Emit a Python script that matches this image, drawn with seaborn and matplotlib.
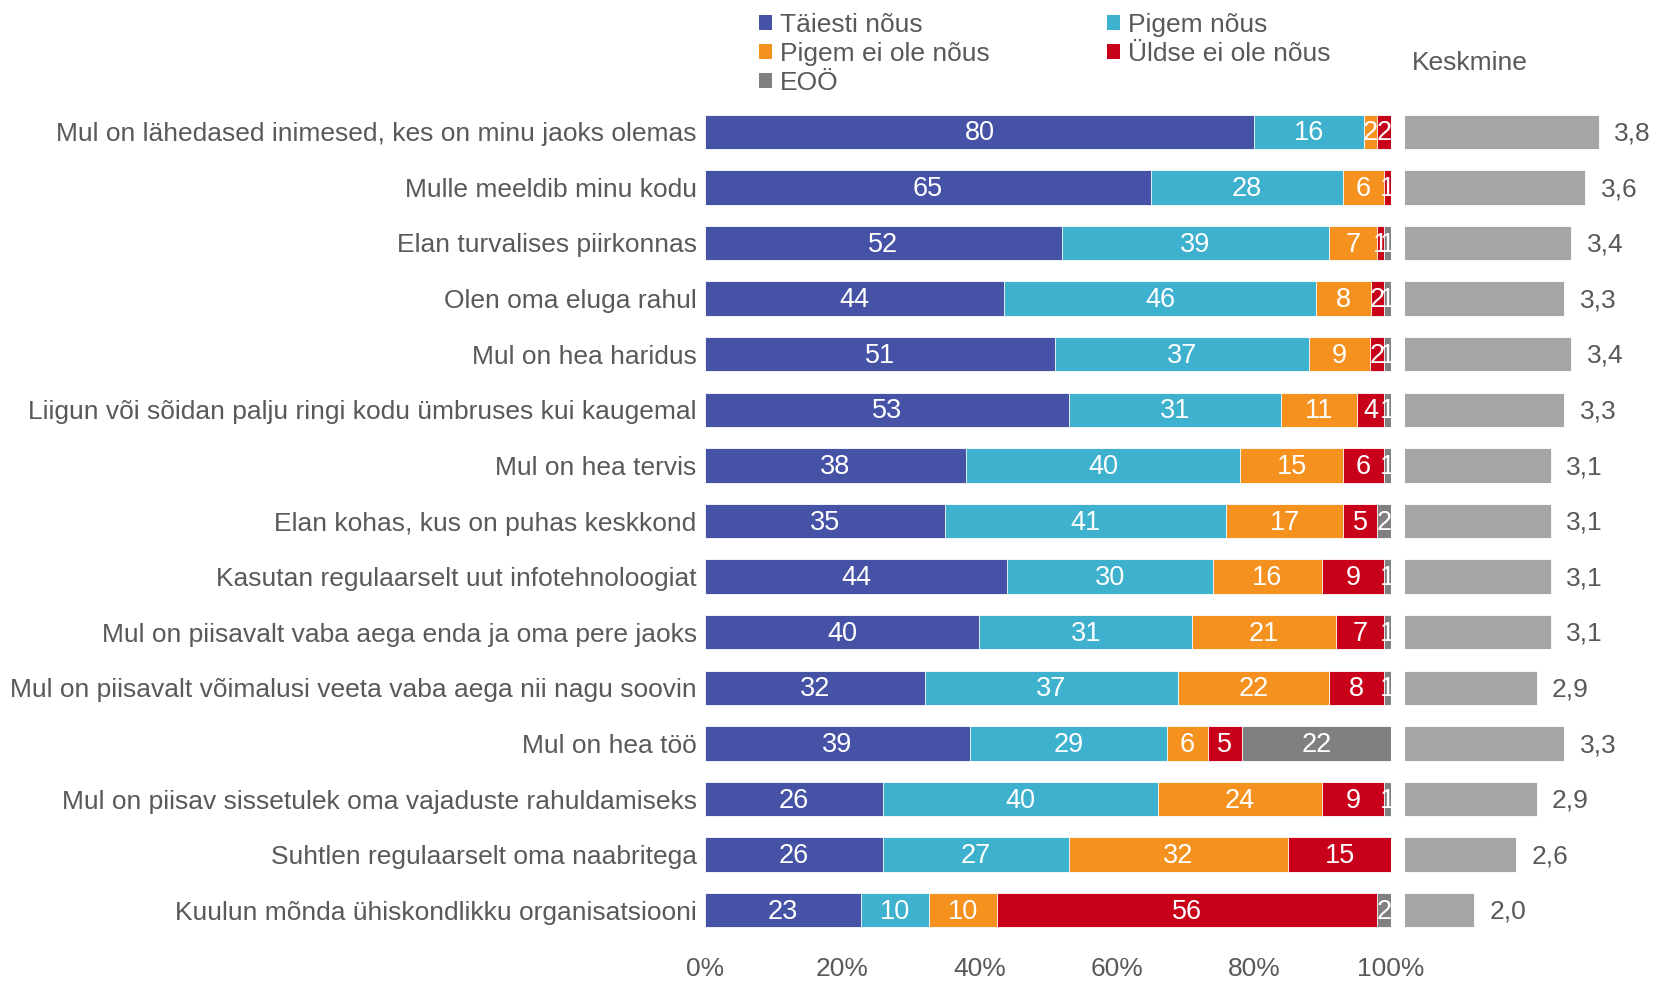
import pandas as pd
import matplotlib.pyplot as plt
import seaborn as sns
from matplotlib.patches import Patch


vaited = [
    "Mul on lähedased inimesed, kes on minu jaoks olemas",
    "Mulle meeldib minu kodu",
    "Elan turvalises piirkonnas",
    "Olen oma eluga rahul",
    "Mul on hea haridus",
    "Liigun või sõidan palju ringi kodu ümbruses kui kaugemal",
    "Mul on hea tervis",
    "Elan kohas, kus on puhas keskkond",
    "Kasutan regulaarselt uut infotehnoloogiat",
    "Mul on piisavalt vaba aega enda ja oma pere jaoks",
    "Mul on piisavalt võimalusi veeta vaba aega nii nagu soovin",
    "Mul on hea töö",
    "Mul on piisav sissetulek oma vajaduste rahuldamiseks",
    "Suhtlen regulaarselt oma naabritega",
    "Kuulun mõnda ühiskondlikku organisatsiooni",
]
taiesti_nous = [80, 65, 52, 44, 51, 53, 38, 35, 44, 40, 32, 39, 26, 26, 23]
pigem_nous = [16, 28, 39, 46, 37, 31, 40, 41, 30, 31, 37, 29, 40, 27, 10]
pigem_ei_ole = [2, 6, 7, 8, 9, 11, 15, 17, 16, 21, 22, 6, 24, 32, 10]
uldse_ei_ole = [2, 1, 1, 2, 2, 4, 6, 5, 9, 7, 8, 5, 9, 15, 56]
eoo = [0, 0, 1, 1, 1, 1, 1, 2, 1, 1, 1, 22, 1, 0, 2]
keskmine = [3.8, 3.6, 3.4, 3.3, 3.4, 3.3, 3.1, 3.1, 3.1, 3.1, 2.9, 3.3, 2.9, 2.6, 2.0]

seeriad = ["Täiesti nõus", "Pigem nõus", "Pigem ei ole nõus", "Üldse ei ole nõus", "EOÖ"]
varvid = ["#4652A6", "#3EB1CE", "#F5911F", "#C8001A", "#808080"]
HALL_TEKST = "#595959"
FS = 19

sns.set_theme(style="white")
plt.rcParams["font.family"] = ["Liberation Sans", "DejaVu Sans"]

df = pd.DataFrame(
    {
        seeriad[0]: taiesti_nous,
        seeriad[1]: pigem_nous,
        seeriad[2]: pigem_ei_ole,
        seeriad[3]: uldse_ei_ole,
        seeriad[4]: eoo,
    },
    index=vaited,
)
# protsendid normeeritakse 100-le (ümardamise tõttu summa vahel 101)
pct = df.div(df.sum(axis=1), axis=0) * 100
kumul = pct.cumsum(axis=1)

fig = plt.figure(figsize=(16.55, 9.81), dpi=100)
ax = fig.add_axes([0.426, 0.0438, 0.4145, 0.8502])
ax2 = fig.add_axes([0.849, 0.0438, 0.134, 0.8502])

# kihiti: kõige pikem enne, siis lühemad peale
for nimi, varv in reversed(list(zip(seeriad, varvid))):
    sns.barplot(x=kumul[nimi].values, y=vaited, color=varv, orient="h",
                width=0.62, edgecolor="white", linewidth=0.6, saturation=1,
                ax=ax)

for i, rida in enumerate(vaited):
    vasak = 0
    for nimi in seeriad:
        w = pct.loc[rida, nimi]
        v = df.loc[rida, nimi]
        if v > 0:
            ax.text(vasak + w / 2, i + 0.03, str(v), ha="center", va="center",
                    color="white", fontsize=FS + 0.5)
        vasak += w

ax.set_xlim(0, 100)
ax.set_ylim(len(vaited) - 0.5, -0.5)
ax.set_xticks(range(0, 101, 20))
ax.set_xticklabels([f"{t}%" for t in range(0, 101, 20)])
ax.tick_params(axis="x", length=0, pad=14, labelsize=FS, labelcolor=HALL_TEKST)
ax.tick_params(axis="y", length=0, pad=6, labelsize=FS, labelcolor=HALL_TEKST)
ax.set_xlabel("")
ax.set_ylabel("")
sns.despine(ax=ax, left=True, bottom=True)

# keskmised
sns.barplot(x=keskmine, y=vaited, color="#A6A6A6", orient="h", width=0.62,
            edgecolor="white", linewidth=0.6, saturation=1, ax=ax2)
for i, v in enumerate(keskmine):
    ax2.annotate(f"{v:.1f}".replace(".", ","), xy=(v, i + 0.03), xytext=(11, 0),
                 textcoords="offset points", va="center", ha="left",
                 fontsize=FS, color=HALL_TEKST)
ax2.set_xlim(1, 4.2)
ax2.set_ylim(len(vaited) - 0.5, -0.5)
ax2.set_xticks([])
ax2.set_yticks([])
ax2.set_xlabel("")
ax2.set_ylabel("")
sns.despine(ax=ax2, left=True, bottom=True)

fig.text(1412 / 1655, 1 - 63 / 981, "Keskmine", ha="left", va="center",
         fontsize=FS, color=HALL_TEKST)

# legend: rea kaupa järjestus
jarjekord = [0, 2, 4, 1, 3]
kasitsejad = [Patch(facecolor=varvid[k], edgecolor="none") for k in jarjekord]
sildid = [seeriad[k] for k in jarjekord]
leg = fig.legend(kasitsejad, sildid, ncol=2, loc="upper left",
                 bbox_to_anchor=(748 / 1655, 0.998), frameon=False,
                 fontsize=FS, handlelength=0.5, handleheight=0.5,
                 handletextpad=0.3, labelspacing=0.2, columnspacing=4.45,
                 borderaxespad=0)
for t in leg.get_texts():
    t.set_color(HALL_TEKST)

fig.savefig("out.png", dpi=100)
